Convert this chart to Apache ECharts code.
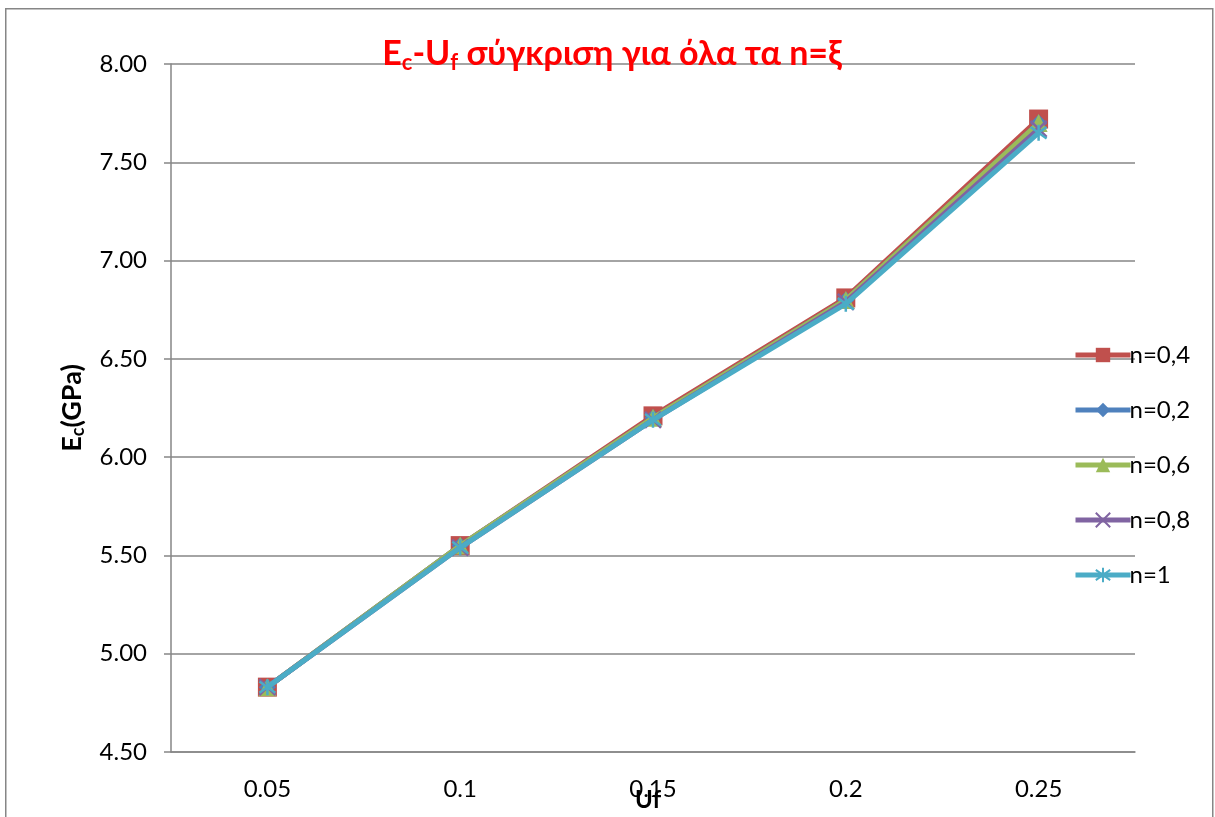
<!DOCTYPE html>
<html><head><meta charset="utf-8">
<script src="https://cdn.jsdelivr.net/npm/echarts@6/dist/echarts.min.js"></script>
<style>html,body{margin:0;padding:0;background:#fff}#c{width:1215px;height:817px}</style>
</head><body><div id="c"></div>
<script>
const categories = ['0.05', '0.1', '0.15', '0.2', '0.25'];
const seriesNames = ['n=0,4', 'n=0,2', 'n=0,6', 'n=0,8', 'n=1'];
const n04 = [4.83, 5.55, 6.21, 6.81, 7.72];
const n02 = [4.83, 5.55, 6.20, 6.80, 7.70];
const n06 = [4.83, 5.55, 6.20, 6.80, 7.70];
const n08 = [4.83, 5.54, 6.19, 6.79, 7.67];
const n1  = [4.83, 5.54, 6.19, 6.78, 7.65];
const seriesData = [n04, n02, n06, n08, n1];
const colors = ['#C0504D', '#4F81BD', '#9BBB59', '#8064A2', '#4BACC6'];
const symbols = [
  'rect',
  'diamond',
  'triangle',
  'path://M0,0L10,10M10,0L0,10',
  'path://M0,0L10,10M10,0L0,10M5,-2L5,12'
];
const symbolSizes = [19, 17, 18, 16, 16];
const FONT = 'Lato, "Noto Sans", sans-serif';

const chart = echarts.init(document.getElementById('c'));
const series = seriesNames.map((name, i) => {
  const stroke = i >= 3;
  return {
    name: name,
    type: 'line',
    data: seriesData[i],
    symbol: symbols[i],
    symbolSize: symbolSizes[i],
    showAllSymbol: true,
    lineStyle: { color: colors[i], width: 5 },
    itemStyle: stroke
      ? { color: colors[i], borderColor: colors[i], borderWidth: 2.5 }
      : { color: colors[i], borderWidth: 0 },
    emphasis: { disabled: true },
    animation: false,
    z: 2 + i
  };
});

chart.setOption({
  animation: false,
  color: colors,
  title: {
    text: 'E{s|c}-U{s|f} σύγκριση για όλα τα n=ξ',
    left: 607, textAlign: 'center', top: 30,
    textStyle: {
      color: '#FF0000', fontSize: 34, fontWeight: 'bold', fontFamily: FONT,
      rich: { s: { color: '#FF0000', fontSize: 22, fontWeight: 'bold', fontFamily: FONT, verticalAlign: 'bottom', padding: [17, 0, 0, 0] } }
    }
  },
  graphic: [{
    type: 'rect', left: 5, top: 8, z: -10,
    shape: { width: 1207, height: 820 },
    style: { fill: '#fff', stroke: '#868686', lineWidth: 1.5 }
  }],
  legend: {
    orient: 'vertical', left: 1068, top: 338,
    itemWidth: 55, itemHeight: 18, itemGap: 31,
    lineStyle: { width: 5 },
    textStyle: { fontSize: 24, color: '#000', fontFamily: FONT, padding: [0, 0, 0, -6] },
    data: seriesNames
  },
  grid: { left: 171, right: 80, top: 64, bottom: 65, outerBoundsMode: 'none', containLabel: false },
  xAxis: {
    type: 'category', data: categories, boundaryGap: true,
    name: 'Uf', nameLocation: 'middle', nameGap: 36, nameMoveOverlap: false,
    nameTextStyle: { fontSize: 24, fontWeight: 'bold', color: '#000', fontFamily: FONT, padding: [0, 0, 0, -10] },
    axisLine: { lineStyle: { color: '#868686', width: 1.5 } },
    axisTick: { show: false },
    axisLabel: { fontSize: 24, color: '#000', fontFamily: FONT, margin: 25 },
    splitLine: { show: false }
  },
  yAxis: {
    type: 'value', min: 4.5, max: 8, interval: 0.5,
    name: 'E{s|c}(GPa)', nameLocation: 'middle', nameGap: 84, nameRotate: 90, nameMoveOverlap: false,
    nameTextStyle: {
      fontSize: 27, fontWeight: 'bold', color: '#000', fontFamily: FONT,
      rich: { s: { fontSize: 18, fontWeight: 'bold', color: '#000', fontFamily: FONT, padding: [12, 0, 0, 0] } }
    },
    axisLine: { show: true, lineStyle: { color: '#868686', width: 1.5 } },
    axisTick: { show: true, length: 7, lineStyle: { color: '#868686', width: 1.5 } },
    axisLabel: { fontSize: 24, color: '#000', fontFamily: FONT, margin: 24, formatter: v => v.toFixed(2) },
    splitLine: { lineStyle: { color: '#868686', width: 1.5 } }
  },
  series: series
});
</script></body></html>
